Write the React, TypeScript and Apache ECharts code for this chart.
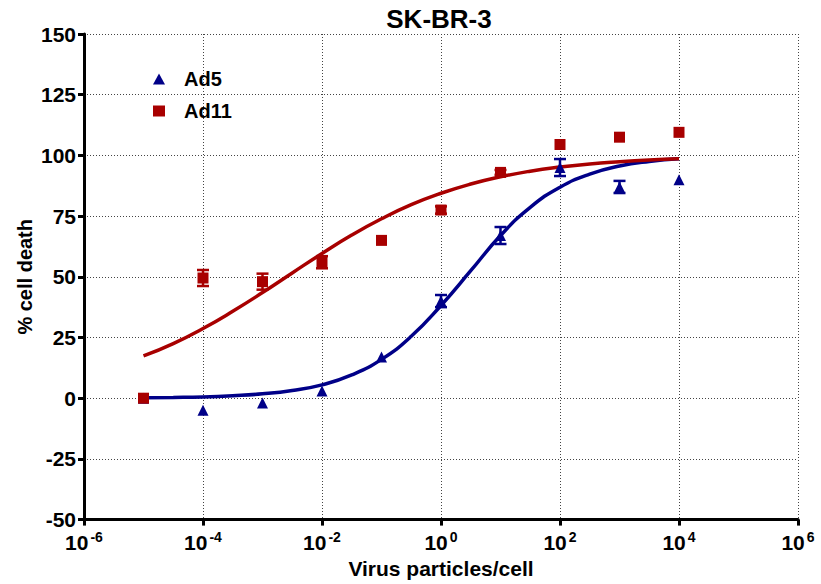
import React, { useEffect, useRef } from "react";
import * as echarts from "echarts";

const titleText = "SK-BR-3";
const xAxisName = "Virus particles/cell";
const yAxisName = "% cell death";

const doses = [1e-5, 1e-4, 1e-3, 1e-2, 1e-1, 1, 10, 100, 1000, 10000];
const ad5Values = [0, -5, -2, 3, 17, 40, 67, 95, 87, 90];
const ad5Errors = [0, 0, 0, 0, 0, 2.5, 3.5, 3.5, 2.5, 0];
const ad11Values = [0, 49.5, 48, 56, 65, 77.5, 93, 104.5, 107.5, 109.5];
const ad11Errors = [0, 3.3, 3.3, 2.5, 0, 1.5, 1, 0, 0, 0];

const curveDoses = [
  1e-5, 3.162e-5, 1e-4, 3.162e-4, 1e-3, 3.162e-3, 1e-2, 3.162e-2, 1e-1, 3.162e-1,
  1, 3.162, 10, 31.62, 100, 316.2, 1000, 3162, 10000,
];
const ad5Fit = [0.2, 0.3, 0.5, 1.0, 1.8, 3.2, 5.5, 9.6, 16, 25.5, 38.2, 52.5, 67, 78.6, 86.9, 92.3, 95.6, 97.5, 98.6];
const ad11Fit = [17.4, 22.5, 28.7, 35.8, 43.5, 51.6, 59.6, 67.2, 73.9, 79.7, 84.4, 88.2, 91.2, 93.5, 95.2, 96.5, 97.4, 98.1, 98.6];

const BLUE = "#000088";
const RED = "#A80000";
const FONT = "'Liberation Sans', Arial, sans-serif";

function errorSeries(name: string, values: number[], errors: number[], color: string) {
  const data = doses
    .map((d, i) => [d, values[i], errors[i]])
    .filter((r) => r[2] > 0);
  return {
    name: name + "-err",
    type: "custom",
    z: 3,
    data,
    renderItem: (params: any, api: any) => {
      const x = api.value(0);
      const y = api.value(1);
      const e = api.value(2);
      const top = api.coord([x, y + e]);
      const bot = api.coord([x, y - e]);
      const w = 6;
      const st = { stroke: color, lineWidth: 2.5 };
      return {
        type: "group",
        children: [
          { type: "line", shape: { x1: top[0], y1: top[1], x2: bot[0], y2: bot[1] }, style: st },
          { type: "line", shape: { x1: top[0] - w, y1: top[1], x2: top[0] + w, y2: top[1] }, style: st },
          { type: "line", shape: { x1: bot[0] - w, y1: bot[1], x2: bot[0] + w, y2: bot[1] }, style: st },
        ],
      };
    },
  };
}

export default function App() {
  const ref = useRef<HTMLDivElement>(null);
  useEffect(() => {
    if (!ref.current) return;
    const chart = echarts.init(ref.current, null, { renderer: "svg" });
    const dotted = { type: [1, 2], color: "#444", width: 1 };
    chart.setOption({
      animation: false,
      backgroundColor: "#fff",
      title: {
        text: titleText,
        left: 439,
        top: 6,
        padding: 0,
        textAlign: "center",
        textStyle: { fontFamily: FONT, fontSize: 26, fontWeight: "bold", color: "#000" },
      },
      legend: {
        orient: "vertical",
        left: 148,
        top: 64,
        itemGap: 12,
        itemWidth: 12,
        itemHeight: 11,
        data: [
          { name: "Ad5", icon: "triangle" },
          { name: "Ad11", icon: "rect" },
        ],
        textStyle: {
          fontFamily: FONT,
          fontSize: 20,
          fontWeight: "bold",
          color: "#000",
          lineHeight: 20,
          padding: [0, 0, 0, 14],
        },
      },
      grid: { left: 84, right: 23, top: 34, bottom: 64, containLabel: false },
      xAxis: {
        type: "log",
        logBase: 10,
        min: 1e-6,
        max: 1e6,
        interval: 2,
        name: xAxisName,
        nameLocation: "middle",
        nameGap: 37,
        nameTextStyle: { fontFamily: FONT, fontSize: 21, fontWeight: "bold", color: "#000" },
        axisLine: { onZero: false, lineStyle: { color: "#000", width: 3 } },
        axisTick: { show: true, length: 6, lineStyle: { color: "#000", width: 3 } },
        minorTick: { show: false },
        splitLine: { show: true, lineStyle: dotted },
        axisLabel: {
          margin: 10,
          formatter: (v: number) => {
            const e = Math.round(Math.log10(v));
            return "{b|10}{s|" + e + "}";
          },
          rich: {
            b: { fontFamily: FONT, fontSize: 21, fontWeight: "bold", color: "#000" },
            s: { fontFamily: FONT, fontSize: 14, fontWeight: "bold", color: "#000", padding: [0, 0, 12, 2] },
          },
        },
      },
      yAxis: {
        type: "value",
        min: -50,
        max: 150,
        interval: 25,
        name: yAxisName,
        nameLocation: "middle",
        nameGap: 49,
        nameMoveOverlap: false,
        nameRotate: 90,
        nameTextStyle: { fontFamily: FONT, fontSize: 20, fontWeight: "bold", color: "#000" },
        axisLine: { show: true, onZero: false, lineStyle: { color: "#000", width: 3 } },
        axisTick: { show: true, length: 6, lineStyle: { color: "#000", width: 3 } },
        splitLine: { show: true, lineStyle: dotted },
        axisLabel: { margin: 8, fontFamily: FONT, fontSize: 21, fontWeight: "bold", color: "#000" },
      },
      series: [
        {
          name: "Ad5 fit",
          type: "line",
          smooth: true,
          showSymbol: false,
          z: 2,
          data: curveDoses.map((d, i) => [d, ad5Fit[i]]),
          lineStyle: { color: BLUE, width: 3.5 },
          itemStyle: { color: BLUE },
        },
        {
          name: "Ad11 fit",
          type: "line",
          smooth: true,
          showSymbol: false,
          z: 2,
          data: curveDoses.map((d, i) => [d, ad11Fit[i]]),
          lineStyle: { color: RED, width: 3.5 },
          itemStyle: { color: RED },
        },
        errorSeries("Ad5", ad5Values, ad5Errors, BLUE),
        errorSeries("Ad11", ad11Values, ad11Errors, RED),
        {
          name: "Ad5",
          type: "scatter",
          symbol: "triangle",
          symbolSize: 11,
          z: 4,
          data: doses.map((d, i) => [d, ad5Values[i]]),
          itemStyle: { color: BLUE, opacity: 1 },
        },
        {
          name: "Ad11",
          type: "scatter",
          symbol: "rect",
          symbolSize: 11,
          z: 5,
          data: doses.map((d, i) => [d, ad11Values[i]]),
          itemStyle: { color: RED, opacity: 1 },
        },
      ],
    });
    return () => chart.dispose();
  }, []);
  return (
    <div
      ref={ref}
      style={{ position: "absolute", left: 0, top: 0, width: 821, height: 584 }}
    />
  );
}
